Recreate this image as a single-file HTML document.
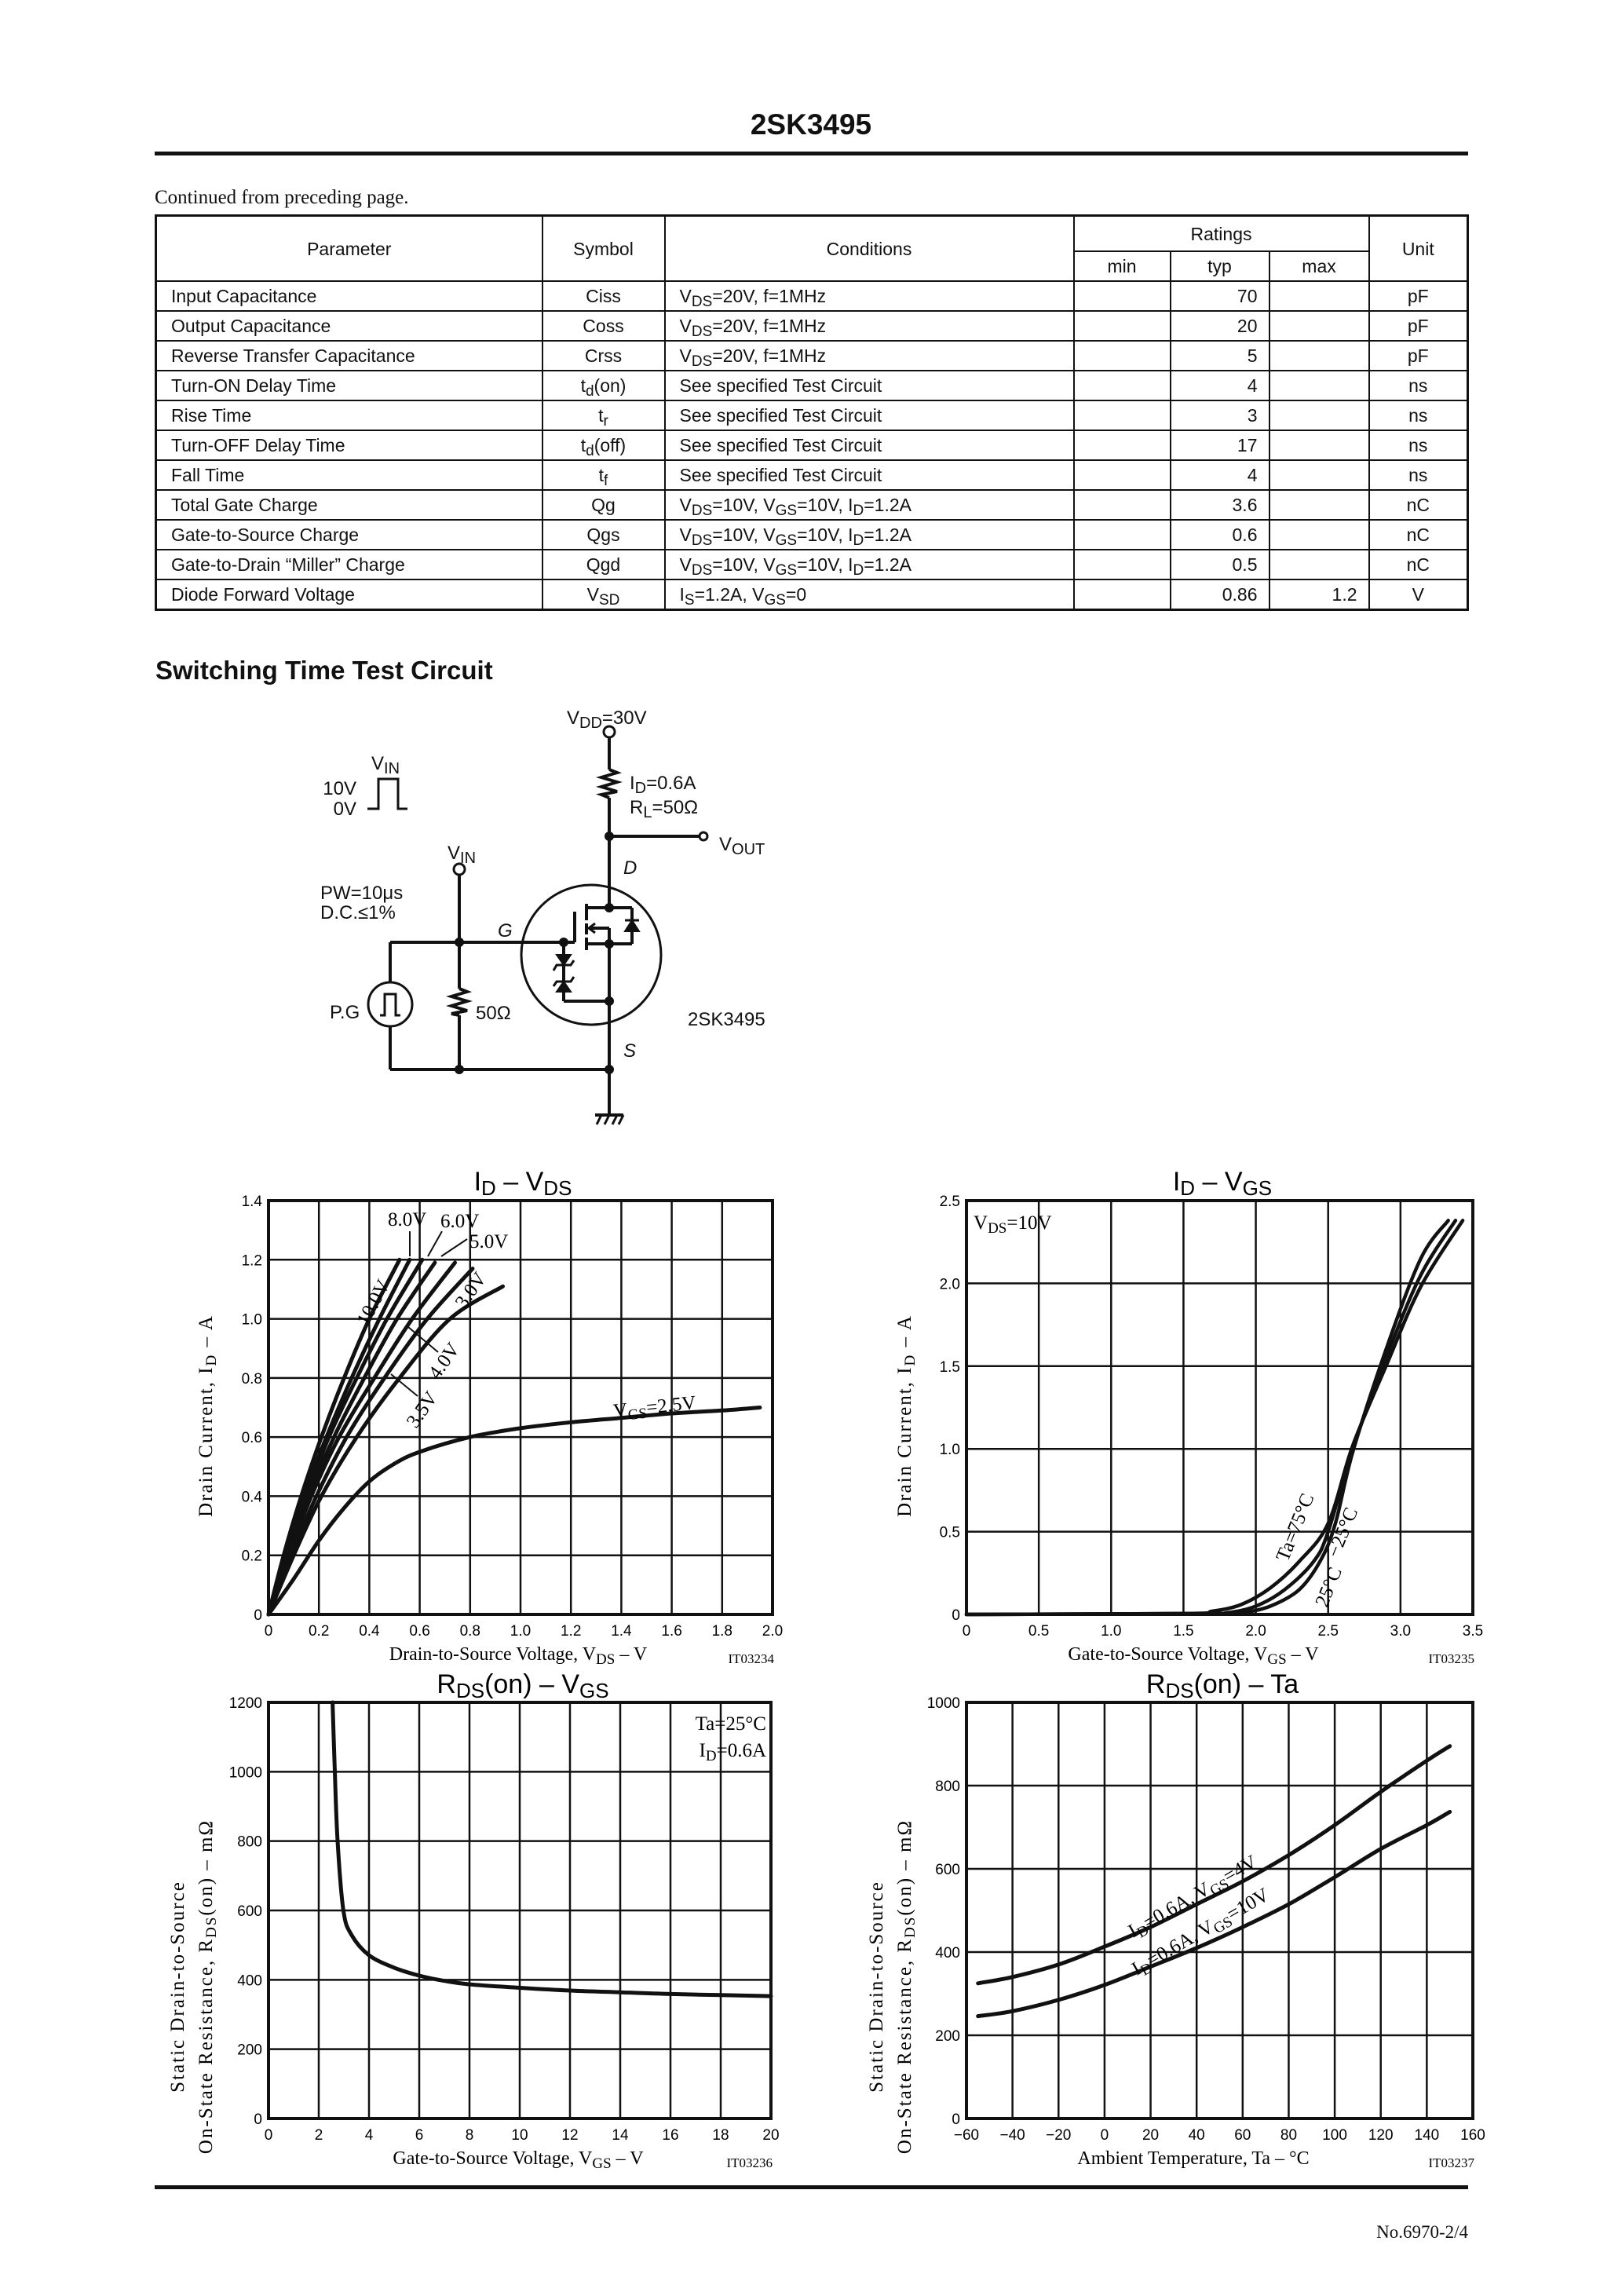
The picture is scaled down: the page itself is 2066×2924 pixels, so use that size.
<!DOCTYPE html>
<html><head><meta charset="utf-8">
<style>
body{margin:0;background:#fff;}
#page{position:relative;width:2066px;height:2924px;overflow:hidden;background:#fff;font-family:"Liberation Sans",sans-serif;color:#111;}
.abs{position:absolute;}
table.spec{position:absolute;left:197px;top:273px;width:1671px;border-collapse:collapse;table-layout:fixed;font-family:"Liberation Sans",sans-serif;font-size:23px;}
table.spec td{border:2px solid #111;padding:0;height:36px;line-height:36px;white-space:nowrap;overflow:hidden;}
table.spec{border:3px solid #111;}
.l{text-align:left;text-indent:18px;}
.c{text-align:center;}
.r{text-align:right;}
.r span{padding-right:14px;}
sub{font-size:19px;vertical-align:-5px;line-height:0;}
svg text{font-family:"Liberation Sans",sans-serif;}
</style></head>
<body>
<div id="page">
<div class="abs" style="left:0;width:2066px;top:138px;text-align:center;font-weight:bold;font-size:37px;">2SK3495</div>
<div class="abs" style="left:197px;width:1673px;top:193px;height:5px;background:#111;"></div>
<div class="abs" style="left:197px;top:238px;font-family:'Liberation Serif',serif;font-size:25px;">Continued from preceding page.</div>

<table class="spec">
<colgroup><col style="width:492px"><col style="width:156px"><col style="width:521px"><col style="width:123px"><col style="width:126px"><col style="width:127px"><col style="width:126px"></colgroup>
<tr style="height:45px"><td class="c" rowspan="2">Parameter</td><td class="c" rowspan="2">Symbol</td><td class="c" rowspan="2">Conditions</td><td class="c" colspan="3" style="height:43px">Ratings</td><td class="c" rowspan="2">Unit</td></tr>
<tr><td class="c">min</td><td class="c">typ</td><td class="c">max</td></tr>
<tr><td class="l">Input Capacitance</td><td class="c">Ciss</td><td class="l">V<sub>DS</sub>=20V, f=1MHz</td><td></td><td class="r"><span>70</span></td><td></td><td class="c">pF</td></tr>
<tr><td class="l">Output Capacitance</td><td class="c">Coss</td><td class="l">V<sub>DS</sub>=20V, f=1MHz</td><td></td><td class="r"><span>20</span></td><td></td><td class="c">pF</td></tr>
<tr><td class="l">Reverse Transfer Capacitance</td><td class="c">Crss</td><td class="l">V<sub>DS</sub>=20V, f=1MHz</td><td></td><td class="r"><span>5</span></td><td></td><td class="c">pF</td></tr>
<tr><td class="l">Turn-ON Delay Time</td><td class="c">t<sub>d</sub>(on)</td><td class="l">See specified Test Circuit</td><td></td><td class="r"><span>4</span></td><td></td><td class="c">ns</td></tr>
<tr><td class="l">Rise Time</td><td class="c">t<sub>r</sub></td><td class="l">See specified Test Circuit</td><td></td><td class="r"><span>3</span></td><td></td><td class="c">ns</td></tr>
<tr><td class="l">Turn-OFF Delay Time</td><td class="c">t<sub>d</sub>(off)</td><td class="l">See specified Test Circuit</td><td></td><td class="r"><span>17</span></td><td></td><td class="c">ns</td></tr>
<tr><td class="l">Fall Time</td><td class="c">t<sub>f</sub></td><td class="l">See specified Test Circuit</td><td></td><td class="r"><span>4</span></td><td></td><td class="c">ns</td></tr>
<tr><td class="l">Total Gate Charge</td><td class="c">Qg</td><td class="l">V<sub>DS</sub>=10V, V<sub>GS</sub>=10V, I<sub>D</sub>=1.2A</td><td></td><td class="r"><span>3.6</span></td><td></td><td class="c">nC</td></tr>
<tr><td class="l">Gate-to-Source Charge</td><td class="c">Qgs</td><td class="l">V<sub>DS</sub>=10V, V<sub>GS</sub>=10V, I<sub>D</sub>=1.2A</td><td></td><td class="r"><span>0.6</span></td><td></td><td class="c">nC</td></tr>
<tr><td class="l">Gate-to-Drain “Miller” Charge</td><td class="c">Qgd</td><td class="l">V<sub>DS</sub>=10V, V<sub>GS</sub>=10V, I<sub>D</sub>=1.2A</td><td></td><td class="r"><span>0.5</span></td><td></td><td class="c">nC</td></tr>
<tr><td class="l">Diode Forward Voltage</td><td class="c">V<sub>SD</sub></td><td class="l">I<sub>S</sub>=1.2A, V<sub>GS</sub>=0</td><td></td><td class="r"><span>0.86</span></td><td class="r"><span>1.2</span></td><td class="c">V</td></tr>
</table>

<div class="abs" style="left:198px;top:835px;font-weight:bold;font-size:33px;">Switching Time Test Circuit</div>

<svg class="abs" style="left:0;top:0" width="2066" height="2924" id="fig">
<g stroke="#111" stroke-width="4" fill="none">
 <line x1="776" y1="940" x2="776" y2="980"/>
 <polyline points="776,980 786,984 766,990 786,996 766,1002 786,1008 766,1012 776,1016"/>
 <line x1="776" y1="1016" x2="776" y2="1156"/>
 <circle cx="776" cy="932" r="7" stroke-width="3"/>
 <line x1="776" y1="1065" x2="890" y2="1065"/>
 <circle cx="896" cy="1065" r="5" stroke-width="3"/>
 <ellipse cx="753" cy="1216" rx="89" ry="89" stroke-width="3"/>
 <line x1="747" y1="1156" x2="805" y2="1156"/>
 <line x1="747" y1="1202" x2="805" y2="1202"/>
 <line x1="776" y1="1182" x2="750" y2="1182"/>
 <polyline points="758,1176 750,1182 758,1188" stroke-width="3"/>
 <line x1="776" y1="1182" x2="776" y2="1420"/>
 <line x1="805" y1="1156" x2="805" y2="1202"/>
 <polygon points="796,1186 814,1186 805,1172" fill="#111" stroke-width="2"/>
 <line x1="796" y1="1172" x2="814" y2="1172" stroke-width="3"/>
 <line x1="747" y1="1151" x2="747" y2="1172"/>
 <line x1="747" y1="1176" x2="747" y2="1190"/>
 <line x1="747" y1="1194" x2="747" y2="1210"/>
 <line x1="732" y1="1161" x2="732" y2="1200"/>
 <line x1="497" y1="1200" x2="732" y2="1200"/>
 <line x1="718" y1="1200" x2="718" y2="1275"/>
 <line x1="718" y1="1275" x2="776" y2="1275"/>
 <polygon points="709,1216 727,1216 718,1229" fill="#111" stroke-width="2"/>
 <polyline points="705,1236 709,1229 727,1229 731,1223" stroke-width="3"/>
 <polygon points="709,1263 727,1263 718,1250" fill="#111" stroke-width="2"/>
 <polyline points="705,1256 709,1250 727,1250 731,1244" stroke-width="3"/>
 <circle cx="585" cy="1107" r="7" stroke-width="3"/>
 <line x1="585" y1="1114" x2="585" y2="1259"/>
 <polyline points="585,1259 595,1263 575,1269 595,1275 575,1281 595,1287 575,1291 585,1293"/>
 <line x1="585" y1="1293" x2="585" y2="1362"/>
 <line x1="497" y1="1200" x2="497" y2="1251"/>
 <ellipse cx="497" cy="1279" rx="28" ry="28" stroke-width="3"/>
 <polyline points="484,1293 490,1293 490,1266 504,1266 504,1293 510,1293" stroke-width="3"/>
 <line x1="497" y1="1307" x2="497" y2="1362"/>
 <line x1="497" y1="1362" x2="776" y2="1362"/>
 <line x1="758" y1="1420" x2="794" y2="1420"/>
 <line x1="766" y1="1420" x2="760" y2="1432" stroke-width="3"/>
 <line x1="776" y1="1420" x2="770" y2="1432" stroke-width="3"/>
 <line x1="786" y1="1420" x2="780" y2="1432" stroke-width="3"/>
 <line x1="794" y1="1420" x2="788" y2="1432" stroke-width="3"/>
 <polyline points="468,1030 482,1030 482,992 507,992 507,1030 519,1030" stroke-width="3"/>
 <circle cx="585" cy="1200" r="4" fill="#111"/><circle cx="776" cy="1065" r="4" fill="#111"/>
 <circle cx="776" cy="1156" r="4" fill="#111"/><circle cx="776" cy="1202" r="4" fill="#111"/>
 <circle cx="776" cy="1275" r="4" fill="#111"/><circle cx="718" cy="1200" r="4" fill="#111"/>
 <circle cx="585" cy="1362" r="4" fill="#111"/><circle cx="776" cy="1362" r="4" fill="#111"/>
</g>
<g font-size="24" fill="#111">
 <text x="722" y="922">V<tspan font-size="20" dy="5">DD</tspan><tspan dy="-5">=30V</tspan></text>
 <text x="473" y="980">V<tspan font-size="20" dy="5">IN</tspan></text>
 <text x="454" y="1012" text-anchor="end">10V</text>
 <text x="454" y="1038" text-anchor="end">0V</text>
 <text x="802" y="1005">I<tspan font-size="20" dy="5">D</tspan><tspan dy="-5">=0.6A</tspan></text>
 <text x="802" y="1036">R<tspan font-size="20" dy="5">L</tspan><tspan dy="-5">=50Ω</tspan></text>
 <text x="916" y="1083">V<tspan font-size="20" dy="5">OUT</tspan></text>
 <text x="570" y="1094">V<tspan font-size="20" dy="5">IN</tspan></text>
 <text x="408" y="1145">PW=10μs</text>
 <text x="408" y="1170">D.C.≤1%</text>
 <text x="794" y="1113" font-style="italic">D</text>
 <text x="634" y="1193" font-style="italic">G</text>
 <text x="794" y="1346" font-style="italic">S</text>
 <text x="420" y="1297">P.G</text>
 <text x="606" y="1298">50Ω</text>
 <text x="876" y="1306">2SK3495</text>
</g>
</svg>

<div class="abs" style="left:197px;width:1673px;top:2783px;height:5px;background:#111;"></div>
<div class="abs" style="right:196px;top:2830px;font-family:'Liberation Serif',serif;font-size:23px;">No.6970-2/4</div>
</div>

<script>
// ---- Chart 1: ID - VDS ----
const vdsTicks = ["0","0.2","0.4","0.6","0.8","1.0","1.2","1.4","1.6","1.8","2.0"];
const idTicks1 = ["0","0.2","0.4","0.6","0.8","1.0","1.2","1.4"];
const vds10 = [0,0.06,0.13,0.21,0.30,0.40,0.52];
const id10 = [0,0.2,0.4,0.6,0.8,1.0,1.2];
const vds8 = [0,0.07,0.14,0.23,0.33,0.44,0.56];
const id8 = [0,0.2,0.4,0.6,0.8,1.0,1.2];
const vds6 = [0,0.07,0.15,0.24,0.35,0.47,0.61];
const id6 = [0,0.2,0.4,0.6,0.8,1.0,1.2];
const vds5 = [0,0.08,0.16,0.26,0.38,0.51,0.66];
const id5 = [0,0.2,0.4,0.6,0.8,1.0,1.19];
const vds4 = [0,0.08,0.17,0.28,0.42,0.57,0.74];
const id4 = [0,0.2,0.4,0.6,0.8,1.0,1.19];
const vds35 = [0,0.09,0.19,0.31,0.46,0.63,0.81];
const id35 = [0,0.2,0.4,0.6,0.8,1.0,1.17];
const vds30 = [0,0.1,0.21,0.35,0.52,0.72,0.93];
const id30 = [0,0.2,0.4,0.6,0.8,1.0,1.11];
const vds25 = [0,0.1,0.2,0.3,0.4,0.5,0.6,0.8,1.0,1.2,1.4,1.6,1.8,1.95];
const id25 = [0,0.12,0.25,0.36,0.45,0.51,0.55,0.60,0.63,0.65,0.665,0.68,0.69,0.70];
// ---- Chart 2: ID - VGS ----
const vgsTicks2 = ["0","0.5","1.0","1.5","2.0","2.5","3.0","3.5"];
const idTicks2 = ["0","0.5","1.0","1.5","2.0","2.5"];
const vgsT75 = [0,1.5,1.7,1.9,2.1,2.3,2.5,2.67,2.9,3.14,3.43];
const idT75 = [0,0.005,0.02,0.06,0.16,0.32,0.55,1.02,1.5,1.98,2.38];
const vgsT25 = [0,1.6,1.8,2.0,2.2,2.4,2.5,2.67,2.9,3.14,3.38];
const idT25 = [0,0.005,0.01,0.05,0.15,0.32,0.50,1.0,1.55,2.05,2.38];
const vgsTm25 = [0,1.7,1.9,2.1,2.3,2.45,2.55,2.67,2.9,3.14,3.33];
const idTm25 = [0,0.005,0.01,0.05,0.15,0.33,0.55,0.98,1.6,2.15,2.38];
// ---- Chart 3: RDS(on) - VGS ----
const vgsTicks3 = ["0","2","4","6","8","10","12","14","16","18","20"];
const rTicks3 = ["0","200","400","600","800","1000","1200"];
const vgsR = [2.55,2.64,2.75,2.98,3.3,4,5,6,7,8,10,12,14,16,18,20];
const rdsR = [1200,1000,800,600,530,471,435,412,397,387,377,369,364,359,356,353];
// ---- Chart 4: RDS(on) - Ta ----
const taTicks = ["−60","−40","−20","0","20","40","60","80","100","120","140","160"];
const rTicks4 = ["0","200","400","600","800","1000"];
const ta = [-55,-40,-20,0,20,40,60,80,100,120,140,150];
const rds4V = [325,340,370,413,460,515,570,633,705,785,860,895];
const rds10V = [246,258,285,321,365,410,460,515,580,648,705,737];

const NS = "http://www.w3.org/2000/svg";
const fig = document.getElementById('fig');
function el(tag, attrs, parent) {
  const e = document.createElementNS(NS, tag);
  for (const k in attrs) e.setAttribute(k, attrs[k]);
  (parent || fig).appendChild(e);
  return e;
}
function makeAxes(L, R, T, B, x0, x1, y0, y1) {
  return { sx: v => L + (v - x0) / (x1 - x0) * (R - L), sy: v => B - (v - y0) / (y1 - y0) * (B - T) };
}
function smoothPath(xs, ys, ax) {
  const p = xs.map((x, i) => [ax.sx(x), ax.sy(ys[i])]);
  let d = "M" + p[0][0].toFixed(1) + "," + p[0][1].toFixed(1);
  for (let i = 0; i < p.length - 1; i++) {
    const p0 = p[Math.max(0, i - 1)], p1 = p[i], p2 = p[i + 1], p3 = p[Math.min(p.length - 1, i + 2)];
    const c1 = [p1[0] + (p2[0] - p0[0]) / 6, p1[1] + (p2[1] - p0[1]) / 6];
    const c2 = [p2[0] - (p3[0] - p1[0]) / 6, p2[1] - (p3[1] - p1[1]) / 6];
    d += "C" + c1[0].toFixed(1) + "," + c1[1].toFixed(1) + " " + c2[0].toFixed(1) + "," + c2[1].toFixed(1) + " " + p2[0].toFixed(1) + "," + p2[1].toFixed(1);
  }
  return d;
}
function drawFrame(g, L, R, T, B, xt, yt, ax, xv, yv, tickY, tickX) {
  for (let i = 1; i < xv.length - 1; i++) {
    const gl = el('line', {x1: ax.sx(xv[i]), x2: ax.sx(xv[i]), y1: T, y2: B, stroke: '#111', 'stroke-width': 2.5}, g);
    
    
  }
  for (let i = 1; i < yv.length - 1; i++) {
    const gl = el('line', {x1: L, x2: R, y1: ax.sy(yv[i]), y2: ax.sy(yv[i]), stroke: '#111', 'stroke-width': 2.5}, g);
    
    
  }
  const fr = el('rect', {x: L, y: T, width: R - L, height: B - T, fill: 'none', stroke: '#111', 'stroke-width': 4}, g);
  
  
  xt.forEach((t, i) => {
    const tx = el('text', {x: ax.sx(xv[i]), y: tickY, 'text-anchor': 'middle', 'font-size': 19}, g);
    tx.textContent = t;
    
    
  });
  yt.forEach((t, i) => {
    const tx = el('text', {x: tickX, y: ax.sy(yv[i]) + 7, 'text-anchor': 'end', 'font-size': 19}, g);
    tx.textContent = t;
    
    
  });
}
function curve(g, xs, ys, ax, w) {
  return el('path', {d: smoothPath(xs, ys, ax), fill: 'none', stroke: '#111', 'stroke-width': w || 5, 'stroke-linecap': 'round'}, g);
}
function txt(g, x, y, s, size, extra) {
  const t = el('text', Object.assign({x: x, y: y, 'font-size': size}, extra || {}), g);
  t.innerHTML = s;
  return t;
}
const serif = {style: 'font-family:"Liberation Serif",serif'};

// Chart 1
{
  const g = el('g', {});
  
  
  const L = 342, R = 984, T = 1529, B = 2056;
  const ax = makeAxes(L, R, T, B, 0, 2, 0, 1.4);
  drawFrame(g, L, R, T, B, vdsTicks, idTicks1, ax, vdsTicks.map(Number), idTicks1.map(Number), 2083, 334);
  const series = [[vds10, id10], [vds8, id8], [vds6, id6], [vds5, id5], [vds4, id4], [vds35, id35], [vds30, id30], [vds25, id25]];
  series.forEach(s => {
    const c = curve(g, s[0], s[1], ax, 5);
    
    
  });
  let t = txt(g, 666, 1516, 'I<tspan font-size="26" dy="6">D</tspan><tspan dy="-6"> – V</tspan><tspan font-size="26" dy="6">DS</tspan>', 34, {'text-anchor': 'middle'});
  
  
  t = txt(g, 660, 2114, 'Drain-to-Source Voltage, V<tspan font-size="19" dy="5">DS</tspan><tspan dy="-5"> – V</tspan>', 24, Object.assign({'text-anchor': 'middle'}, serif));
  
  
  t = txt(g, 986, 2118, 'IT03234', 17, Object.assign({'text-anchor': 'end'}, serif));
  
  
  t = txt(g, 0, 0, 'Drain Current, I<tspan font-size="19" dy="5">D</tspan><tspan dy="-5"> – A</tspan>', 25, Object.assign({'text-anchor': 'middle', transform: 'translate(270,1803) rotate(-90)', 'letter-spacing': '2'}, serif));
  
  
  const labs = [['8.0V', 494, 1561, 0], ['6.0V', 561, 1563, 0], ['5.0V', 598, 1589, 0], ['10.0V', 468, 1690, -62], ['3.0V', 592, 1668, -55], ['4.0V', 558, 1758, -55], ['3.5V', 530, 1820, -55]];
  labs.forEach(a => {
    const l = txt(g, a[1], a[2], a[0], 25, Object.assign({transform: 'rotate(' + a[3] + ' ' + a[1] + ' ' + a[2] + ')'}, serif));
    
    
  });
  const l2 = txt(g, 782, 1805, 'V<tspan font-size="19" dy="5">GS</tspan><tspan dy="-5">=2.5V</tspan>', 25, Object.assign({transform: 'rotate(-6 782 1805)'}, serif));
  
  
  const arrows = [[522, 1568, 522, 1600], [563, 1568, 545, 1600], [595, 1578, 562, 1600], [558, 1722, 520, 1690], [532, 1778, 498, 1750]];
  arrows.forEach(a => {
    const ln = el('line', {x1: a[0], y1: a[1], x2: a[2], y2: a[3], stroke: '#111', 'stroke-width': 2}, g);
    
    
  });
}
// Chart 2
{
  const g = el('g', {});
  
  
  const L = 1231, R = 1876, T = 1529, B = 2056;
  const ax = makeAxes(L, R, T, B, 0, 3.5, 0, 2.5);
  drawFrame(g, L, R, T, B, vgsTicks2, idTicks2, ax, vgsTicks2.map(Number), idTicks2.map(Number), 2083, 1223);
  [[vgsT75, idT75], [vgsT25, idT25], [vgsTm25, idTm25]].forEach(s => {
    const c = curve(g, s[0], s[1], ax, 4.5);
    
    
  });
  let t = txt(g, 1557, 1516, 'I<tspan font-size="26" dy="6">D</tspan><tspan dy="-6"> – V</tspan><tspan font-size="26" dy="6">GS</tspan>', 34, {'text-anchor': 'middle'});
  
  
  t = txt(g, 1520, 2114, 'Gate-to-Source Voltage, V<tspan font-size="19" dy="5">GS</tspan><tspan dy="-5"> – V</tspan>', 24, Object.assign({'text-anchor': 'middle'}, serif));
  
  
  t = txt(g, 1878, 2118, 'IT03235', 17, Object.assign({'text-anchor': 'end'}, serif));
  
  
  t = txt(g, 0, 0, 'Drain Current, I<tspan font-size="19" dy="5">D</tspan><tspan dy="-5"> – A</tspan>', 25, Object.assign({'text-anchor': 'middle', transform: 'translate(1160,1803) rotate(-90)', 'letter-spacing': '2'}, serif));
  
  
  t = txt(g, 1240, 1565, 'V<tspan font-size="19" dy="5">DS</tspan><tspan dy="-5">=10V</tspan>', 25, serif);
  
  
  const labs = [['Ta=75°C', 1640, 1990, -68], ['−25°C', 1705, 1985, -68], ['25°C', 1690, 2048, -68]];
  labs.forEach(a => {
    const l = txt(g, a[1], a[2], a[0], 25, Object.assign({transform: 'rotate(' + a[3] + ' ' + a[1] + ' ' + a[2] + ')'}, serif));
    
    
  });
}
// Chart 3
{
  const g = el('g', {});
  
  
  const L = 342, R = 982, T = 2168, B = 2698;
  const ax = makeAxes(L, R, T, B, 0, 20, 0, 1200);
  drawFrame(g, L, R, T, B, vgsTicks3, rTicks3, ax, vgsTicks3.map(Number), rTicks3.map(Number), 2725, 334);
  const c = curve(g, vgsR, rdsR, ax, 5);
  
  
  let t = txt(g, 666, 2156, 'R<tspan font-size="26" dy="6">DS</tspan><tspan dy="-6">(on) – V</tspan><tspan font-size="26" dy="6">GS</tspan>', 34, {'text-anchor': 'middle'});
  
  
  t = txt(g, 660, 2756, 'Gate-to-Source Voltage, V<tspan font-size="19" dy="5">GS</tspan><tspan dy="-5"> – V</tspan>', 24, Object.assign({'text-anchor': 'middle'}, serif));
  
  
  t = txt(g, 984, 2760, 'IT03236', 17, Object.assign({'text-anchor': 'end'}, serif));
  
  
  t = txt(g, 0, 0, 'Static Drain-to-Source', 25, Object.assign({'text-anchor': 'middle', transform: 'translate(234,2530) rotate(-90)', 'letter-spacing': '2'}, serif));
  
  
  t = txt(g, 0, 0, 'On-State Resistance, R<tspan font-size="19" dy="5">DS</tspan><tspan dy="-5">(on) – mΩ</tspan>', 25, Object.assign({'text-anchor': 'middle', transform: 'translate(270,2530) rotate(-90)', 'letter-spacing': '2'}, serif));
  
  
  t = txt(g, 976, 2203, 'Ta=25°C', 25, Object.assign({'text-anchor': 'end'}, serif));
  
  
  t = txt(g, 976, 2237, 'I<tspan font-size="19" dy="5">D</tspan><tspan dy="-5">=0.6A</tspan>', 25, Object.assign({'text-anchor': 'end'}, serif));
  
  
}
// Chart 4
{
  const g = el('g', {});
  
  
  const L = 1231, R = 1876, T = 2168, B = 2698;
  const ax = makeAxes(L, R, T, B, -60, 160, 0, 1000);
  const xv = [-60,-40,-20,0,20,40,60,80,100,120,140,160];
  drawFrame(g, L, R, T, B, taTicks, rTicks4, ax, xv, rTicks4.map(Number), 2725, 1223);
  [[ta, rds4V], [ta, rds10V]].forEach(s => {
    const c = curve(g, s[0], s[1], ax, 5);
    
    
  });
  let t = txt(g, 1557, 2156, 'R<tspan font-size="26" dy="6">DS</tspan><tspan dy="-6">(on) – Ta</tspan>', 34, {'text-anchor': 'middle'});
  
  
  t = txt(g, 1520, 2756, 'Ambient Temperature, Ta – °C', 24, Object.assign({'text-anchor': 'middle'}, serif));
  
  
  t = txt(g, 1878, 2760, 'IT03237', 17, Object.assign({'text-anchor': 'end'}, serif));
  
  
  t = txt(g, 0, 0, 'Static Drain-to-Source', 25, Object.assign({'text-anchor': 'middle', transform: 'translate(1124,2530) rotate(-90)', 'letter-spacing': '2'}, serif));
  
  
  t = txt(g, 0, 0, 'On-State Resistance, R<tspan font-size="19" dy="5">DS</tspan><tspan dy="-5">(on) – mΩ</tspan>', 25, Object.assign({'text-anchor': 'middle', transform: 'translate(1160,2530) rotate(-90)', 'letter-spacing': '2'}, serif));
  
  
  t = txt(g, 1523, 2422, 'I<tspan font-size="19" dy="5">D</tspan><tspan dy="-5">=0.6A, V</tspan><tspan font-size="19" dy="5">GS</tspan><tspan dy="-5">=4V</tspan>', 25, Object.assign({'text-anchor': 'middle', transform: 'rotate(-30 1523 2422)'}, serif));
  
  
  t = txt(g, 1533, 2467, 'I<tspan font-size="19" dy="5">D</tspan><tspan dy="-5">=0.6A, V</tspan><tspan font-size="19" dy="5">GS</tspan><tspan dy="-5">=10V</tspan>', 25, Object.assign({'text-anchor': 'middle', transform: 'rotate(-30 1533 2467)'}, serif));
  
  
}
</script>
</body></html>
